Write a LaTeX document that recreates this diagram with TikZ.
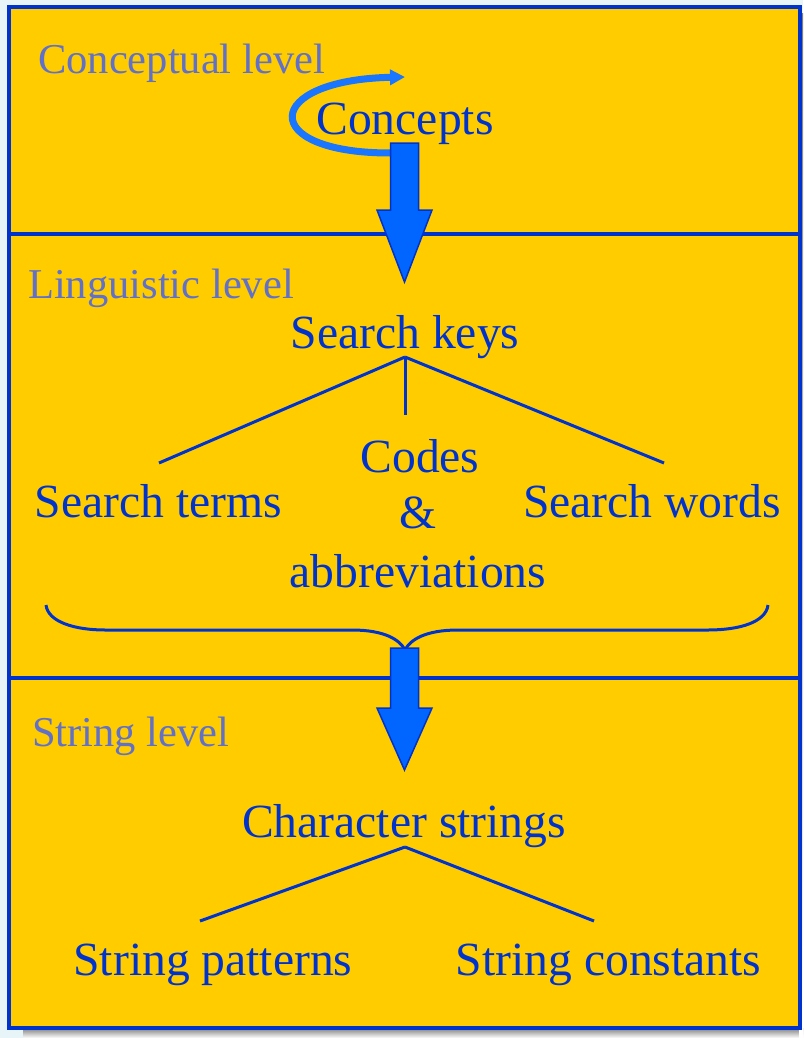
\documentclass[tikz,border=0pt]{standalone}
\usepackage{fontspec}
\setmainfont{Liberation Serif}
\usepackage{tikz}
\usetikzlibrary{arrows.meta}
\definecolor{gold}{HTML}{FFCC00}
\definecolor{rim}{HTML}{0033CC}
\definecolor{ink}{HTML}{0033CC}
\definecolor{dim}{HTML}{6170C8}
\definecolor{flow}{HTML}{0066FF}
\definecolor{turn}{HTML}{1A75FF}
\definecolor{shade}{HTML}{A6A6E2}
\definecolor{paper}{HTML}{E8F5F8}

\tikzset{
  panel/.style={fill=gold, draw=rim, line width=4pt},
  tier/.style={anchor=base west, text=dim, font=\fontsize{42.5}{50}\selectfont},
  item/.style={anchor=base},
  branch/.style={draw=rim, line width=3pt},
  bigarrow/.style={fill=flow, draw=rim, line width=1.5pt, line join=miter},
  turnback/.style={draw=turn, line width=7pt, -{Triangle[length=15pt,width=15pt]}}
}

\begin{document}
\begin{tikzpicture}[x=1pt, y=-1pt,
    every node/.style={inner sep=0pt, text=ink, font=\fontsize{47.6}{57}\selectfont}]
    \useasboundingbox[fill=paper] (0,0) rectangle (803,1038);
    \fill[shade] (23,1028) rectangle (803,1038);
    \fill[shade] (799,14) rectangle (803,1038);

    % the three levels
    \draw[panel] (9,7) rectangle (799.5,234);
    \draw[panel] (9,234) rectangle (799.5,678);
    \draw[panel] (9,678) rectangle (799.5,1028);

    % conceptual level
    \node[tier] (conlvl) at (38,74) {Conceptual level};
    \node[item] (cpt) at (405,135) {Concepts};
    \draw[turnback] (390,153) .. controls (257,153) and (262,80) .. (405,77);
    \draw[bigarrow] (390.5,143) -- (418.5,143) -- (418.5,210) -- (432,210)
        -- (404.5,282) -- (377,210) -- (390.5,210) -- cycle;

    % linguistic level
    \node[tier] (linlvl) at (28,298) {Linguistic level};
    \node[item] (keys) at (405,348) {Search keys};
    \node[item] (terms) at (158.5,517) {Search terms};
    \node[item] (codes) at (420,472) {Codes};
    \node[item] (amp) at (418,528) {\&};
    \node[item] (abbr) at (418,587) {abbreviations};
    \node[item] (words) at (652,517) {Search words};

    \coordinate (keysfoot) at (405,357);
    \coordinate (termshead) at (159,463);
    \coordinate (wordshead) at (664,463);
    \coordinate (codeshead) at (405,415);
    \draw[branch] (keysfoot) -- (termshead);
    \draw[branch] (keysfoot) -- (wordshead);
    \draw[branch] (keysfoot) -- (codeshead);

    \draw[branch] (46,605) .. controls (48,622) and (75,630) .. (105,630) -- (352,630)
        .. controls (385,630) and (400,640) .. (405,650)
        .. controls (410,640) and (425,630) .. (458,630) -- (708,630)
        .. controls (740,630) and (766,622) .. (768,605);
    \draw[bigarrow] (390.5,648) -- (418.5,648) -- (418.5,708) -- (432,708)
        -- (404.5,770) -- (377,708) -- (390.5,708) -- cycle;

    % string level
    \node[tier] (strlvl) at (32,746) {String level};
    \node[item] (chars) at (404,837) {Character strings};
    \node[item] (pats) at (213,975) {String patterns};
    \node[item] (consts) at (608.5,975) {String constants};

    \coordinate (charsfoot) at (405,847);
    \draw[branch] (charsfoot) -- (200,921);
    \draw[branch] (charsfoot) -- (594,921);
\end{tikzpicture}
\end{document}
